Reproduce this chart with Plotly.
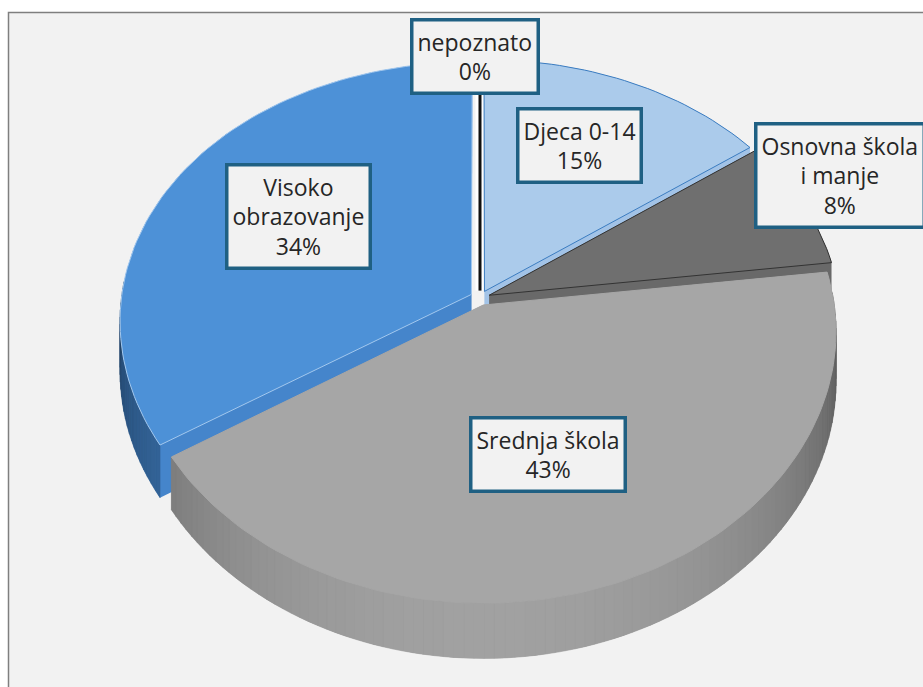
import numpy as np
import plotly.graph_objects as go

# ---------------- data ----------------
categories = ["Djeca 0-14", "Osnovna škola i manje", "Srednja škola", "Visoko obrazovanje", "nepoznato"]
values = [15, 8, 43, 34, 0]

# ---------------- style ----------------
LABEL_TEXT = {"Osnovna škola i manje": "Osnovna škola<br>i manje",
              "Visoko obrazovanje": "Visoko<br>obrazovanje"}
TOP_COLORS = ["#abcbeb", "#6f6f6f", "#a6a6a6", "#4d91d7", "#111111"]
HULL_COLORS = ["#a2c3e7", "#696969", "#8a8a8a", "#4585cb", "#111111"]
WALL_COLORS = ["#9dbde0", "#6a6a6a", "#aaaaaa", "#4586cc", "#111111"]
EDGE_COLORS = ["#3b7cc0", "#333333", "#a6a6a6", "#a3c8ee", "#000000"]
LABEL_R = [0.66, 1.12, 0.56, 0.58, 1.0]
LABEL_SHIFT = [(-3, 2), (2, 16), (-6, 0), (0, 7), (-5, 2)]

W, H_FIG = 923, 687
CX, CY = 480, 298
RX = 350
A, B = 265, 31.6
K = 0.1
DEPTH = 50
EXPLODE = 0.028


def proj(u, w, drop=0.0):
    u = np.asarray(u, float)
    w = np.asarray(w, float)
    s = 1 + K * w
    return CX + RX * u * s, CY + A * w + B * w * w + drop * s


def hull(pts):
    pts = sorted(set(pts))
    if len(pts) < 3:
        return pts

    def cross(o, a, b):
        return (a[0] - o[0]) * (b[1] - o[1]) - (a[1] - o[1]) * (b[0] - o[0])
    lower, upper = [], []
    for p in pts:
        while len(lower) >= 2 and cross(lower[-2], lower[-1], p) <= 0:
            lower.pop()
        lower.append(p)
    for p in reversed(pts):
        while len(upper) >= 2 and cross(upper[-2], upper[-1], p) <= 0:
            upper.pop()
        upper.append(p)
    return lower[:-1] + upper[:-1]


def shade(hexc, f):
    r, g, b = int(hexc[1:3], 16), int(hexc[3:5], 16), int(hexc[5:7], 16)
    return "rgb(%d,%d,%d)" % (min(255, r * f), min(255, g * f), min(255, b * f))


total = float(sum(values))
cum = np.concatenate([[0], np.cumsum(values)]) / total * 2 * np.pi
slices = []
for i, v in enumerate(values):
    t0, t1 = cum[i], cum[i + 1]
    tm = (t0 + t1) / 2
    su, sw = EXPLODE * np.sin(tm), -EXPLODE * np.cos(tm)
    slices.append(dict(i=i, t0=t0, t1=t1, tm=tm, su=su, sw=sw))

fig = go.Figure()
order = sorted(slices, key=lambda s: s["sw"])
for s in order:
    i = s["i"]
    if values[i] == 0:
        u = np.array([s["su"], s["su"] + np.sin(s["t0"])])
        w = np.array([s["sw"], s["sw"] - np.cos(s["t0"])])
        x, y = proj(u, w)
        fig.add_trace(go.Scatter(x=x, y=y, mode="lines", line=dict(color="white", width=9),
                                 hoverinfo="skip", showlegend=False))
        fig.add_trace(go.Scatter(x=x, y=y, mode="lines", line=dict(color=TOP_COLORS[i], width=3),
                                 hoverinfo="skip", showlegend=False))
        continue
    n = max(8, int(np.degrees(s["t1"] - s["t0"]) / 1.5))
    th = np.linspace(s["t0"], s["t1"], n)
    u = np.concatenate([[s["su"]], s["su"] + np.sin(th)])
    w = np.concatenate([[s["sw"]], s["sw"] - np.cos(th)])
    xt, yt = proj(u, w)
    xb, yb = proj(u, w, DEPTH)
    # extrusion body
    hp = hull([(float(a), float(b)) for a, b in zip(np.r_[xt, xb], np.r_[yt, yb])])
    hx = [p[0] for p in hp] + [hp[0][0]]
    hy = [p[1] for p in hp] + [hp[0][1]]
    fig.add_trace(go.Scatter(x=hx, y=hy, mode="lines", fill="toself",
                             fillcolor=HULL_COLORS[i], line=dict(width=0),
                             hoverinfo="skip", showlegend=False))
    # outer wall with shading
    for j in range(len(th) - 1):
        wm = -np.cos((th[j] + th[j + 1]) / 2)
        if wm < -0.05:
            continue
        uu = s["su"] + np.sin([th[j], th[j + 1]])
        ww = s["sw"] - np.cos([th[j], th[j + 1]])
        x1, y1 = proj(uu, ww)
        x2, y2 = proj(uu, ww, DEPTH)
        qx = [x1[0], x1[1], x2[1], x2[0], x1[0]]
        qy = [y1[0], y1[1], y2[1], y2[0], y1[0]]
        col = shade(WALL_COLORS[i], 0.5 + 0.45 * max(wm, 0))
        fig.add_trace(go.Scatter(x=qx, y=qy, mode="lines", fill="toself", fillcolor=col,
                                 line=dict(width=0.6, color=col), hoverinfo="skip", showlegend=False))
    # top face
    fig.add_trace(go.Scatter(x=np.r_[xt, xt[0]], y=np.r_[yt, yt[0]], mode="lines", fill="toself",
                             fillcolor=TOP_COLORS[i], line=dict(color=EDGE_COLORS[i], width=1),
                             name=categories[i], hoverinfo="name", showlegend=False))

# labels
for s in slices:
    i = s["i"]
    f = LABEL_R[i]
    lx, ly = proj(s["su"] + f * np.sin(s["tm"]), s["sw"] - f * np.cos(s["tm"]))
    pct = "%d%%" % round(values[i] / total * 100)
    txt = LABEL_TEXT.get(categories[i], categories[i]) + "<br>" + pct
    fig.add_annotation(x=float(lx), y=float(ly), xref="x", yref="y", text=txt, showarrow=False,
                       xanchor="center", yanchor="middle", align="center",
                       xshift=LABEL_SHIFT[i][0], yshift=LABEL_SHIFT[i][1],
                       font=dict(family="Open Sans", size=23, color="#262626"),
                       bgcolor="#f2f2f2", bordercolor="#1f6083", borderwidth=3.5, borderpad=4)

fig.add_shape(type="rect", xref="x", yref="y", x0=8.5, y0=12.5, x1=1000, y1=1000,
              line=dict(color="#7f7f7f", width=1.5), fillcolor="#f2f2f2", layer="below")

fig.update_layout(width=W, height=H_FIG, autosize=False, margin=dict(l=0, r=0, t=0, b=0),
                  paper_bgcolor="white", plot_bgcolor="white", showlegend=False,
                  xaxis=dict(range=[0, W], visible=False, fixedrange=True),
                  yaxis=dict(range=[H_FIG, 0], visible=False, fixedrange=True))
fig.write_html("out.html", config={"displayModeBar": False},
               post_script="document.body.style.margin='0';document.body.style.overflow='hidden';")
